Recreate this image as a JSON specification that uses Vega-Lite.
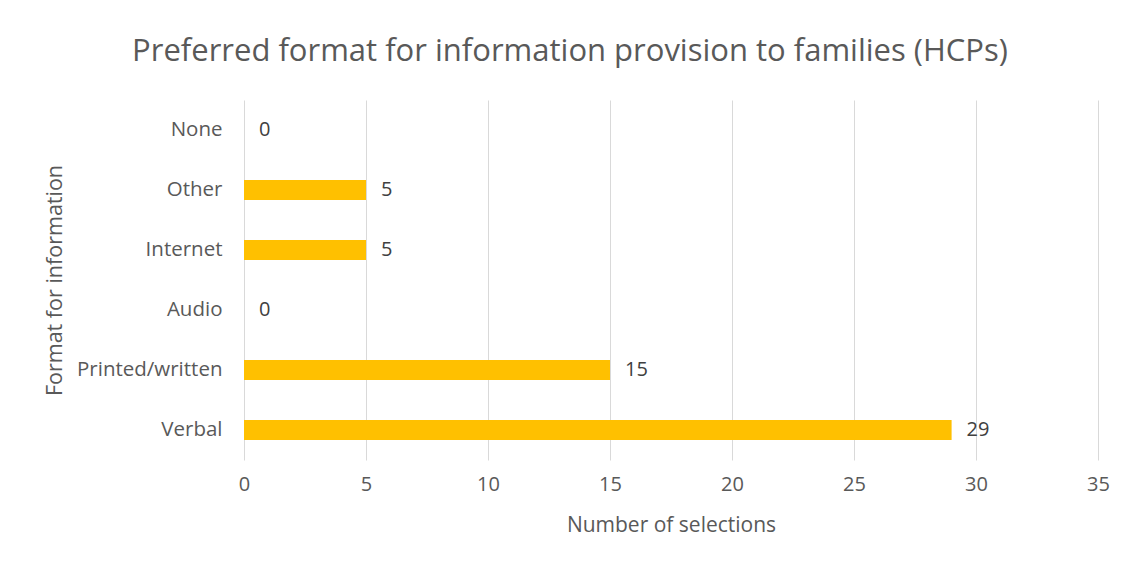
{
  "$schema": "https://vega.github.io/schema/vega-lite/v6.json",
  "autosize": {"type": "none"},
  "width": 854,
  "height": 360,
  "padding": {"left": 244, "top": 100, "right": 34, "bottom": 110},
  "background": "white",
  "title": {
    "text": "Preferred format for information provision to families (HCPs)",
    "font": "Open Sans",
    "fontSize": 31,
    "fontWeight": "normal",
    "color": "#595959",
    "dx": -101,
    "offset": 32
  },
  "data": {
    "values": [
      {"format": "None", "count": 0},
      {"format": "Other", "count": 5},
      {"format": "Internet", "count": 5},
      {"format": "Audio", "count": 0},
      {"format": "Printed/written", "count": 15},
      {"format": "Verbal", "count": 29}
    ]
  },
  "encoding": {
    "y": {
      "field": "format",
      "type": "nominal",
      "sort": ["None", "Other", "Internet", "Audio", "Printed/written", "Verbal"],
      "scale": {"paddingInner": 0.667, "paddingOuter": 0.333},
      "axis": {
        "title": "Format for information",
        "titleFont": "Open Sans",
        "titleFontSize": 21.5,
        "titleFontWeight": "normal",
        "titleColor": "#595959",
        "titlePadding": 10,
        "labelFont": "Open Sans",
        "labelFontSize": 20.5,
        "labelColor": "#595959",
        "labelPadding": 22,
        "ticks": false,
        "domain": false
      }
    },
    "x": {
      "field": "count",
      "type": "quantitative",
      "scale": {"domain": [0, 35]},
      "axis": {
        "title": "Number of selections",
        "titleFont": "Open Sans",
        "titleFontSize": 21,
        "titleFontWeight": "normal",
        "titleColor": "#595959",
        "titlePadding": 20,
        "values": [0, 5, 10, 15, 20, 25, 30, 35],
        "labelFont": "Open Sans",
        "labelFontSize": 20,
        "labelColor": "#595959",
        "labelPadding": 14,
        "labelFlush": false,
        "ticks": false,
        "domain": false,
        "grid": true,
        "gridColor": "#d9d9d9",
        "gridWidth": 1
      }
    }
  },
  "layer": [
    {"mark": {"type": "bar", "color": "#FFC000"}},
    {
      "mark": {"type": "text", "align": "left", "dx": 15, "font": "Open Sans", "fontSize": 20, "color": "#404040"},
      "encoding": {"text": {"field": "count", "type": "quantitative"}}
    }
  ],
  "config": {"view": {"stroke": null}}
}
